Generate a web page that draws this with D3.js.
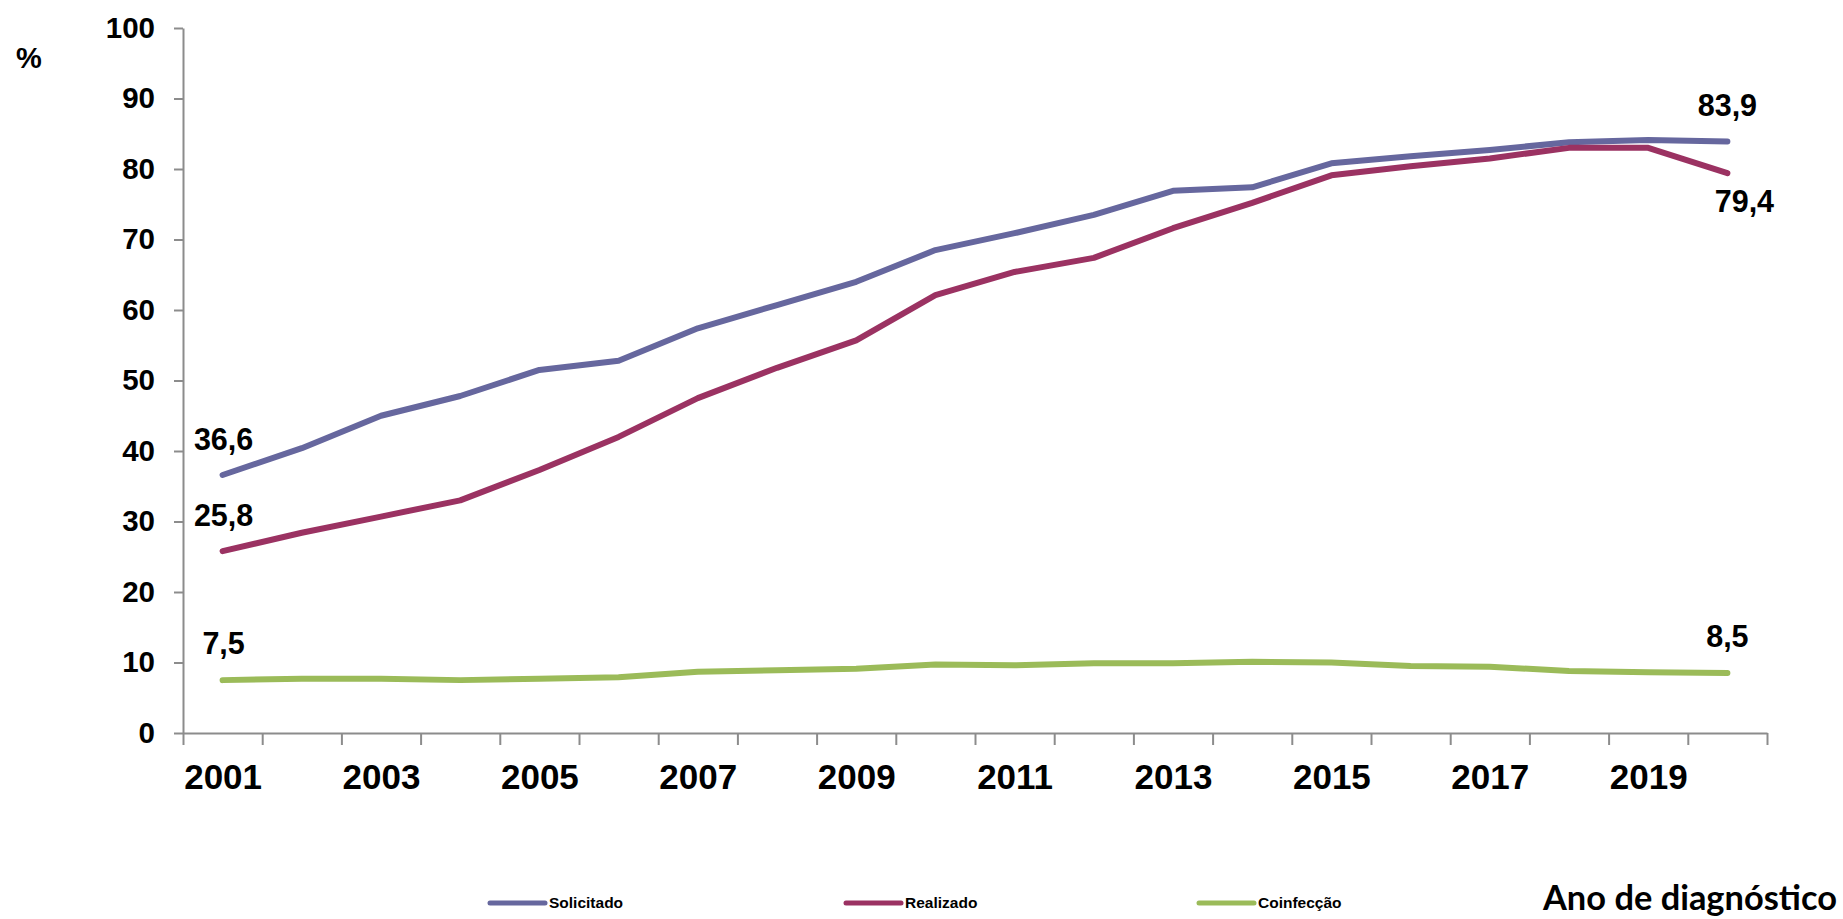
<!DOCTYPE html>
<html>
<head>
<meta charset="utf-8">
<script src="https://cdn.jsdelivr.net/npm/d3@7"></script>
<style>
    body { margin: 0; background: #fff; }
    text { font-family: "Liberation Sans", Arial, sans-serif; font-weight: bold; fill: #000; }
    .axis path, .axis line { stroke: #8c8c8c; stroke-width: 2; }
</style>
</head>
<body>
<svg id="chart" width="1843" height="919"></svg>
<script>
// data
var years = d3.range(2001, 2021);
var labelYears = [2001, 2003, 2005, 2007, 2009, 2011, 2013, 2015, 2017, 2019];
var yTicks = [0, 10, 20, 30, 40, 50, 60, 70, 80, 90, 100];
var seriesNames = ["Solicitado", "Realizado", "Coinfecção"];
var solicitado = [36.6, 40.4, 45.0, 47.8, 51.5, 52.8, 57.4, 60.7, 64.0, 68.5,
                  70.9, 73.5, 76.9, 77.4, 80.8, 81.8, 82.7, 83.8, 84.1, 83.9];
var realizado = [25.8, 28.4, 30.7, 33.0, 37.3, 42.0, 47.5, 51.8, 55.7, 62.1,
                 65.4, 67.4, 71.6, 75.2, 79.1, 80.4, 81.5, 83.0, 83.0, 79.4];
var coinfeccao = [7.5, 7.7, 7.7, 7.5, 7.7, 7.9, 8.7, 8.9, 9.1, 9.7,
                  9.6, 9.9, 9.9, 10.1, 10.0, 9.5, 9.4, 8.8, 8.6, 8.5];

var colours = ["#66679e", "#9b3262", "#9bbb59"];
var allSeries = [solicitado, realizado, coinfeccao];

var svg = d3.select("#chart");
var plotLeft = 183, plotRight = 1767, plotTop = 28, plotBottom = 733;

var x = d3.scaleLinear().domain([2000.5, 2020.5]).range([plotLeft, plotRight]);
var y = d3.scaleLinear().domain([0, 100]).range([plotBottom, plotTop]);

var ptBR = d3.formatLocale({decimal: ",", thousands: ".", grouping: [3], currency: ["R$", ""]});
var fmt = ptBR.format(".1f");

// y axis
var yAxis = svg.append("g")
    .attr("class", "axis")
    .attr("transform", "translate(" + plotLeft + ",0)")
    .call(d3.axisLeft(y).tickValues(yTicks).tickSize(9).tickPadding(19).tickSizeOuter(0));
yAxis.selectAll("text").style("font-size", "29.5px");

// x axis: ticks on the year boundaries, labels centred on the years
var bounds = d3.range(2000.5, 2021, 1);
svg.append("g")
    .attr("class", "axis")
    .attr("transform", "translate(0," + plotBottom + ")")
    .call(d3.axisBottom(x).tickValues(bounds).tickSize(12).tickFormat("").tickSizeOuter(0));
var xLab = svg.append("g")
    .attr("class", "axis")
    .attr("transform", "translate(0," + plotBottom + ")")
    .call(d3.axisBottom(x).tickValues(labelYears).tickSize(0).tickPadding(31).tickFormat(d3.format("d")));
xLab.select(".domain").remove();
xLab.selectAll("text").style("font-size", "35px");

// % label
svg.append("text")
    .text("%")
    .attr("x", 29)
    .attr("y", 68)
    .attr("text-anchor", "middle")
    .style("font-size", "29px");

// lines
var line = d3.line()
    .x(function(d, i) { return x(years[i]); })
    .y(function(d) { return y(d); });
for (var s = 0; s < allSeries.length; s++) {
    svg.append("path")
        .datum(allSeries[s])
        .attr("d", line)
        .style("fill", "none")
        .style("stroke", colours[s])
        .style("stroke-width", 6)
        .style("stroke-linecap", "round")
        .style("stroke-linejoin", "round");
}

// value labels at first and last year
var n = years.length - 1;
var labels = [
    {v: solicitado[0], yr: years[0], dx: 1, dy: -25},
    {v: realizado[0], yr: years[0], dx: 1, dy: -25},
    {v: coinfeccao[0], yr: years[0], dx: 1, dy: -26},
    {v: solicitado[n], yr: years[n], dx: 0, dy: -26},
    {v: realizado[n], yr: years[n], dx: 17, dy: 39},
    {v: coinfeccao[n], yr: years[n], dx: 0, dy: -26}
];
svg.selectAll("text.value")
    .data(labels).enter()
    .append("text")
    .attr("class", "value")
    .text(function(d) { return fmt(d.v); })
    .attr("text-anchor", "middle")
    .attr("x", function(d) { return x(d.yr) + d.dx; })
    .attr("y", function(d) { return y(d.v) + d.dy; })
    .style("font-size", "30.5px");

// legend
var legendX = [490, 846, 1199];
for (var k = 0; k < seriesNames.length; k++) {
    svg.append("line")
        .attr("x1", legendX[k])
        .attr("x2", legendX[k] + 55)
        .attr("y1", 903)
        .attr("y2", 903)
        .style("stroke", colours[k])
        .style("stroke-width", 5)
        .style("stroke-linecap", "round");
    svg.append("text")
        .text(seriesNames[k])
        .attr("x", legendX[k] + 59)
        .attr("y", 908)
        .style("font-size", "15.5px");
}

// x axis title
svg.append("text")
    .text("Ano de diagnóstico")
    .attr("x", 1543)
    .attr("y", 910)
    .attr("textLength", 294)
    .attr("lengthAdjust", "spacingAndGlyphs")
    .style("font-family", "Lato, 'Open Sans', sans-serif")
    .style("font-size", "34px");
</script>
</body>
</html>
